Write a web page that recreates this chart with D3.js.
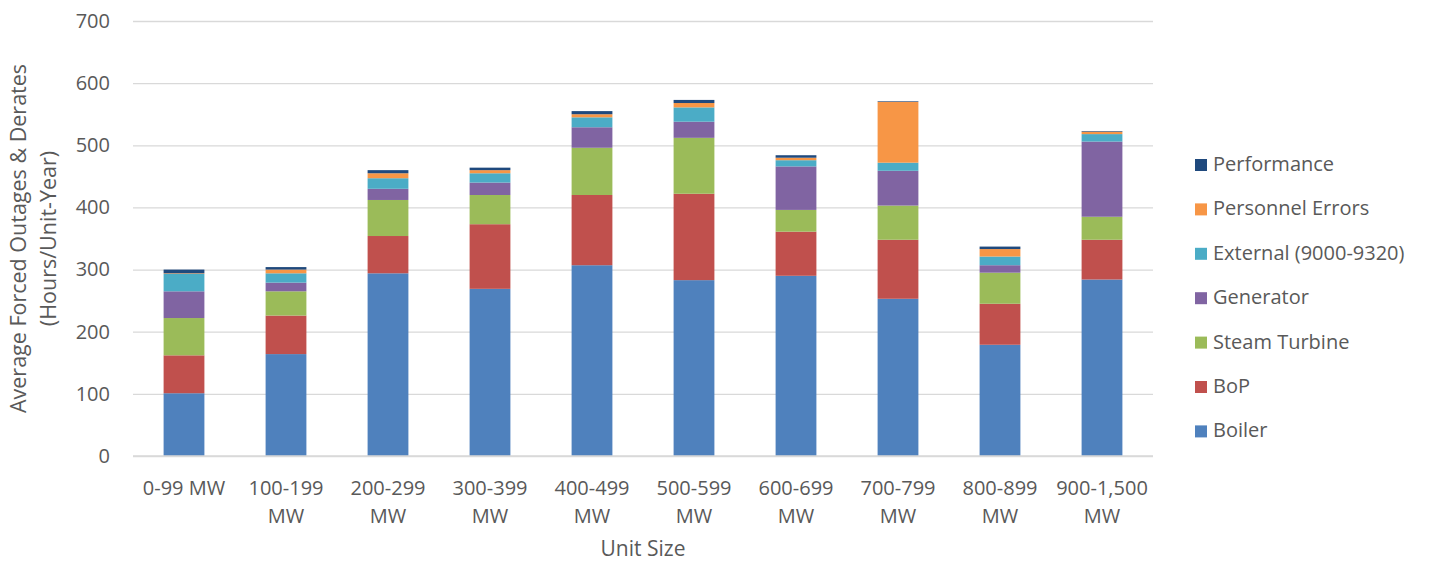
<!DOCTYPE html>
<html>
<head>
<meta charset="utf-8">
<script src="https://cdn.jsdelivr.net/npm/d3@7"></script>
<style>
  html, body { margin: 0; padding: 0; background: #fff; }
  svg { display: block; }
  text { font-family: "Open Sans", sans-serif; fill: #595959; }
</style>
</head>
<body>
<svg id="chart" width="1429" height="563"></svg>
<script>
// Unit size classes (x-axis), each label split into display lines
const categories = ["0-99 MW", "100-199 MW", "200-299 MW", "300-399 MW", "400-499 MW",
                    "500-599 MW", "600-699 MW", "700-799 MW", "800-899 MW", "900-1,500 MW"];
const categoryLines = [["0-99 MW"], ["100-199", "MW"], ["200-299", "MW"], ["300-399", "MW"],
                       ["400-499", "MW"], ["500-599", "MW"], ["600-699", "MW"], ["700-799", "MW"],
                       ["800-899", "MW"], ["900-1,500", "MW"]];

// Hours per unit-year by cause, stacked bottom to top
const boiler        = [101, 164, 294, 269, 307, 283, 290, 253, 179, 284];
const bop           = [ 61,  62,  60, 104, 113, 139,  71,  95,  66,  64];
const steamTurbine  = [ 60,  39,  58,  47,  76,  90,  35,  55,  50,  37];
const generator     = [ 43,  14,  18,  20,  33,  26,  70,  56,  12, 121];
const external      = [ 28,  15,  17,  15,  16,  23,  10,  13,  14,  12];
const personnel     = [  1,   6,   8,   5,   5,   7,   4,  98,  12,   4];
const performance   = [  6,   4,   5,   4,   5,   5,   4,   1,   4,   1];

const seriesNames  = ["Boiler", "BoP", "Steam Turbine", "Generator", "External (9000-9320)", "Personnel Errors", "Performance"];
const seriesValues = [boiler, bop, steamTurbine, generator, external, personnel, performance];
const seriesColors = ["#4F81BD", "#C0504D", "#9BBB59", "#8064A2", "#4BACC6", "#F79646", "#1F497D"];

const yTicks = [0, 100, 200, 300, 400, 500, 600, 700];

const svg = d3.select("#chart");
const plot = { left: 133, right: 1153, top: 21, bottom: 456 };

const x = d3.scaleBand().domain(categories).range([plot.left, plot.right]).paddingInner(0.6).paddingOuter(0.3);
const y = d3.scaleLinear().domain([0, 700]).range([plot.bottom, plot.top]);

// Gridlines and y tick labels
const yAxis = d3.axisLeft(y).tickValues(yTicks).tickSize(-(plot.right - plot.left)).tickPadding(23);
const gy = svg.append("g").attr("transform", `translate(${plot.left},0)`).call(yAxis);
gy.select(".domain").remove();
gy.selectAll(".tick line").attr("stroke", "#d9d9d9").attr("stroke-width", 1.3);
gy.selectAll(".tick text").attr("font-size", 20).attr("fill", "#595959");

// Stacked bars
const rows = categories.map((c, i) => {
  const r = { cat: c };
  seriesNames.forEach((s, k) => r[s] = seriesValues[k][i]);
  return r;
});
const stacked = d3.stack().keys(seriesNames)(rows);

svg.append("g").selectAll("g").data(stacked).join("g")
  .attr("fill", (d, i) => seriesColors[i])
  .selectAll("rect").data(d => d).join("rect")
  .attr("x", d => x(d.data.cat))
  .attr("width", x.bandwidth())
  .attr("y", d => y(d[1]))
  .attr("height", d => y(d[0]) - y(d[1]));

// Baseline axis line
svg.append("line")
  .attr("x1", plot.left).attr("x2", plot.right)
  .attr("y1", y(0)).attr("y2", y(0))
  .attr("stroke", "#d9d9d9").attr("stroke-width", 1.3);

// Category labels
const xl = svg.append("g").selectAll("text").data(categories).join("text")
  .attr("text-anchor", "middle")
  .attr("font-size", 20)
  .attr("x", d => x(d) + x.bandwidth() / 2)
  .attr("y", 495);
xl.each(function(d, i) {
  const t = d3.select(this);
  categoryLines[i].forEach((line, j) => {
    t.append("tspan").attr("x", x(d) + x.bandwidth() / 2).attr("dy", j === 0 ? 0 : 28).text(line);
  });
});

// Axis titles
svg.append("text")
  .attr("x", (plot.left + plot.right) / 2).attr("y", 556)
  .attr("text-anchor", "middle").attr("font-size", 21)
  .text("Unit Size");

const yTitle = svg.append("text")
  .attr("transform", `translate(26,${(plot.top + plot.bottom) / 2}) rotate(-90)`)
  .attr("text-anchor", "middle").attr("font-size", 21.5);
yTitle.append("tspan").attr("x", 0).attr("dy", 0).text("Average Forced Outages & Derates");
yTitle.append("tspan").attr("x", 0).attr("dy", 30).text("(Hours/Unit-Year)");

// Legend, listed top-down in reverse stacking order
const legendItems = seriesNames.map((n, i) => ({ name: n, color: seriesColors[i] })).reverse();
const lg = svg.append("g").selectAll("g").data(legendItems).join("g")
  .attr("transform", (d, i) => `translate(1195,${171 + i * 44.4})`);
lg.append("rect").attr("x", 0).attr("y", -12).attr("width", 12).attr("height", 12).attr("fill", d => d.color);
lg.append("text").attr("x", 18).attr("y", 0).attr("font-size", 20).text(d => d.name);
</script>
</body>
</html>
